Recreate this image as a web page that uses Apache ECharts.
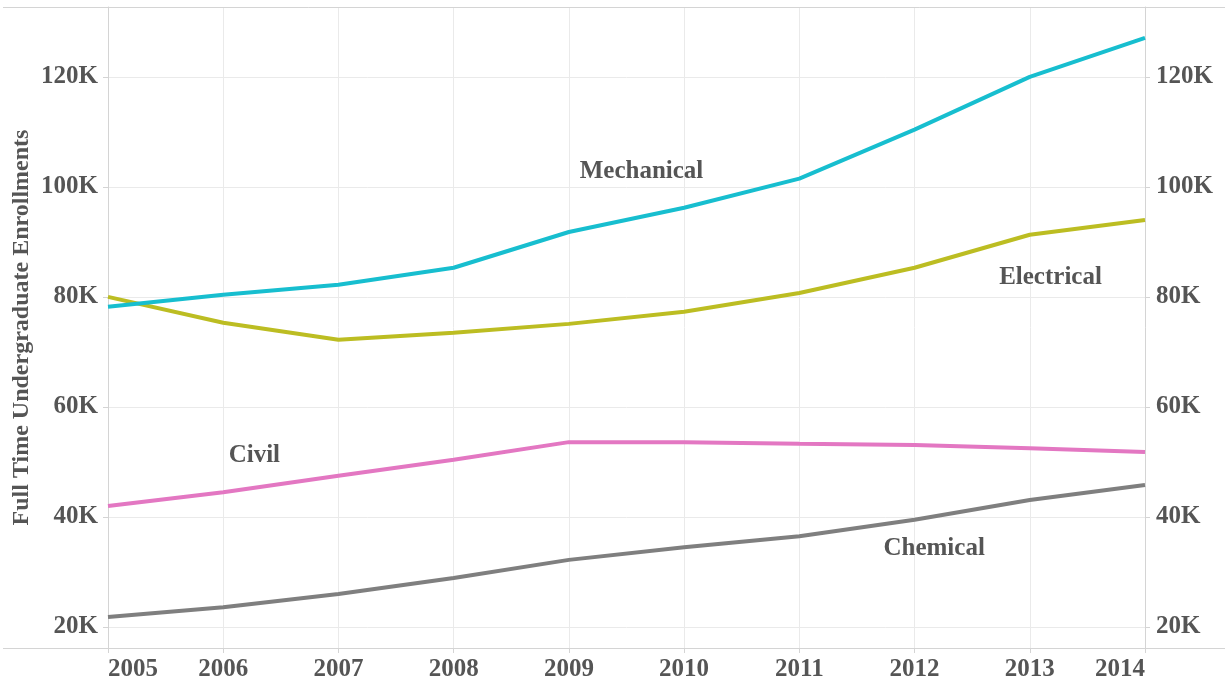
<!DOCTYPE html>
<html>
<head>
<meta charset="utf-8">
<title>Full Time Undergraduate Enrollments</title>
<script src="https://cdn.jsdelivr.net/npm/echarts@6/dist/echarts.min.js"></script>
<style>
  html, body { margin: 0; padding: 0; background: #fff; }
  #chart { width: 1225px; height: 685px; }
</style>
</head>
<body>
<div id="chart"></div>
<script>
// data
var years = [2005, 2006, 2007, 2008, 2009, 2010, 2011, 2012, 2013, 2014];
var mechanical = [78200, 80400, 82200, 85300, 91800, 96200, 101500, 110400, 120000, 127100];
var electrical = [80000, 75300, 72200, 73500, 75100, 77300, 80700, 85300, 91300, 94000];
var civil = [42000, 44500, 47500, 50400, 53600, 53600, 53300, 53100, 52500, 51800];
var chemical = [21800, 23600, 26000, 28900, 32200, 34500, 36500, 39500, 43100, 45800];

// label anchors: [year position, value]
var mechLabel = [2009.63, 102700];
var elecLabel = [2013.18, 83500];
var civilLabel = [2006.27, 51100];
var chemLabel = [2012.17, 34200];

var font = '"Liberation Serif", "Times New Roman", serif';
var textColor = '#555';

function pairs(vals) {
    var r = [];
    for (var i = 0; i < years.length; i++) {
        r.push([years[i], vals[i]]);
    }
    return r;
}

function fmtK(v) {
    return Math.round(v / 1000) + 'K';
}

function lineSeries(name, color, vals, labelAt) {
    return {
        type: 'line',
        name: name,
        data: pairs(vals),
        showSymbol: false,
        silent: true,
        lineStyle: { color: color, width: 4 },
        itemStyle: { color: color },
        z: 3,
        markPoint: {
            symbol: 'circle',
            symbolSize: 0,
            silent: true,
            label: {
                show: true,
                position: 'inside',
                formatter: name,
                color: textColor,
                fontFamily: font,
                fontWeight: 'bold',
                fontSize: 25
            },
            data: [{ coord: labelAt }]
        }
    };
}

var yMin = 16180, yMax = 132700;

function yAxis(pos, margin) {
    return {
        type: 'value',
        position: pos,
        min: yMin,
        max: yMax,
        axisLine: { show: true, lineStyle: { color: '#d4d4d4', width: 1 } },
        axisTick: { show: true, length: 5, lineStyle: { color: '#d4d4d4' } },
        axisLabel: {
            show: true,
            margin: margin,
            color: textColor,
            fontFamily: font,
            fontWeight: 'bold',
            fontSize: 25,
            showMinLabel: false,
            showMaxLabel: false,
            formatter: fmtK
        },
        splitLine: { show: pos === 'left', lineStyle: { color: '#eaeaea', width: 1 } }
    };
}

var chart = echarts.init(document.getElementById('chart'));
var leftAxis = yAxis('left', 10);
leftAxis.name = 'Full Time Undergraduate Enrollments';
leftAxis.nameLocation = 'middle';
leftAxis.nameRotate = 90;
leftAxis.nameGap = 74;
leftAxis.nameMoveOverlap = false;
leftAxis.nameTextStyle = { color: textColor, fontFamily: font, fontWeight: 'bold', fontSize: 24 };

var option = {
    backgroundColor: '#fff',
    animation: false,
    grid: { left: 108, right: 80, top: 7, bottom: 37, outerBoundsMode: 'none', containLabel: false },
    xAxis: {
        type: 'value',
        min: 2005,
        max: 2014,
        interval: 1,
        axisLine: { show: true, onZero: false, lineStyle: { color: '#d4d4d4' } },
        axisTick: { show: true, length: 5, lineStyle: { color: '#d4d4d4' } },
        axisLabel: {
            margin: 9,
            color: textColor,
            fontFamily: font,
            fontWeight: 'bold',
            fontSize: 25,
            alignMinLabel: 'left',
            alignMaxLabel: 'right',
            formatter: function(v) { return String(v); }
        },
        splitLine: { show: true, lineStyle: { color: '#eaeaea', width: 1 } }
    },
    yAxis: [leftAxis, yAxis('right', 11)],
    series: [
        lineSeries('Chemical', '#7f7f7f', chemical, chemLabel),
        lineSeries('Civil', '#e377c2', civil, civilLabel),
        lineSeries('Electrical', '#bcbd22', electrical, elecLabel),
        lineSeries('Mechanical', '#17becf', mechanical, mechLabel)
    ],
    graphic: [
        { type: 'line', shape: { x1: 3, y1: 7.5, x2: 1225, y2: 7.5 }, style: { stroke: '#d4d4d4', lineWidth: 1 }, z: 1 },
        { type: 'line', shape: { x1: 3, y1: 648.5, x2: 1225, y2: 648.5 }, style: { stroke: '#d4d4d4', lineWidth: 1 }, z: 1 }
    ]
};
chart.setOption(option);
</script>
</body>
</html>
